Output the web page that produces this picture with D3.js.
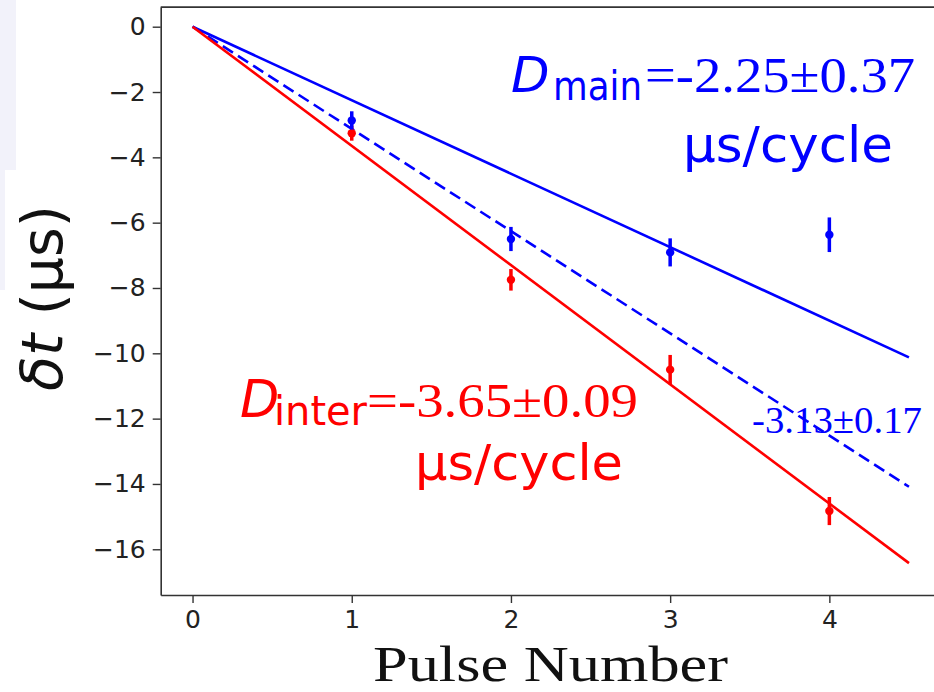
<!DOCTYPE html>
<html>
<head>
<meta charset="utf-8">
<script src="https://cdn.jsdelivr.net/npm/d3@7"></script>
<style>
  body { margin: 0; background: #fff; }
  svg { display: block; }
</style>
</head>
<body>
<div id="chart"></div>
<script>
// pulse numbers and measured shifts (µs)
const pulses = [1, 2, 3, 4];
const mainDt = [-2.87, -6.50, -6.91, -6.37];
const mainErr = [0.28, 0.37, 0.43, 0.53];
const interDt = [-3.26, -7.75, -10.5, -14.83];
const interErr = [0.23, 0.33, 0.45, 0.43];

// fitted slopes (µs/cycle), lines through origin
const fitX = [0, 4.5];
const mainSlope = -2.25;
const interSlope = -3.65;
const combSlope = -3.13;

const xTicks = [0, 1, 2, 3, 4];
const yTicks = [0, -2, -4, -6, -8, -10, -12, -14, -16];

const width = 934, height = 692;
const blue = '#0000ff', red = '#ff0000';

const svg = d3.select('#chart').append('svg')
  .attr('width', width)
  .attr('height', height);

// faint strip on the left edge of the screenshot
svg.append('rect')
  .attr('x', 0).attr('y', 0)
  .attr('width', 16).attr('height', 170)
  .attr('fill', '#f2f2fa');
svg.append('rect')
  .attr('x', 0).attr('y', 170)
  .attr('width', 5).attr('height', 120)
  .attr('fill', '#f2f2fa');

const x = d3.scaleLinear().domain([-0.2, 4.7]).range([160.7, 940.8]);
const y = d3.scaleLinear().domain([0.6, -17.4]).range([7.1, 595]);

// axes
const xAxis = d3.axisBottom(x).tickValues(xTicks)
  .tickSizeInner(8).tickSizeOuter(0).tickPadding(7)
  .tickFormat(d => d);
const yAxis = d3.axisLeft(y).tickValues(yTicks)
  .tickSizeInner(8).tickSizeOuter(0).tickPadding(7)
  .tickFormat(d => (d < 0 ? '\u2212' + Math.abs(d) : d));

const gx = svg.append('g')
  .attr('transform', `translate(0,${y(-17.4)})`)
  .call(xAxis);
const gy = svg.append('g')
  .attr('transform', `translate(${x(-0.2)},0)`)
  .call(yAxis);

[gx, gy].forEach(g => {
  g.select('.domain').attr('stroke', '#333').attr('stroke-width', 1.6);
  g.selectAll('.tick line').attr('stroke', '#333').attr('stroke-width', 1.4);
  g.selectAll('.tick text')
    .attr('fill', '#222')
    .style('font-family', 'DejaVu Sans')
    .style('font-size', '25px');
});

// top spine
svg.append('line')
  .attr('x1', x(-0.2)).attr('x2', width)
  .attr('y1', y(0.6)).attr('y2', y(0.6))
  .attr('stroke', '#333').attr('stroke-width', 1.6);

// fit lines
const fitLine = slope => d3.line()
  .x(d => x(d))
  .y(d => y(slope * d))(fitX);

svg.append('path')
  .attr('d', fitLine(combSlope))
  .attr('fill', 'none')
  .attr('stroke', blue)
  .attr('stroke-width', 2.6)
  .attr('stroke-dasharray', '12,6');

svg.append('path')
  .attr('d', fitLine(mainSlope))
  .attr('fill', 'none')
  .attr('stroke', blue)
  .attr('stroke-width', 2.6);

svg.append('path')
  .attr('d', fitLine(interSlope))
  .attr('fill', 'none')
  .attr('stroke', red)
  .attr('stroke-width', 2.6);

// error bar points
function drawSeries(vals, errs, color) {
  const g = svg.append('g');
  const rows = pulses.map((p, i) => ({ p, v: vals[i], e: errs[i] }));
  g.selectAll('line.err').data(rows).enter().append('line')
    .attr('class', 'err')
    .attr('x1', d => x(d.p)).attr('x2', d => x(d.p))
    .attr('y1', d => y(d.v + d.e)).attr('y2', d => y(d.v - d.e))
    .attr('stroke', color).attr('stroke-width', 3.5);
  g.selectAll('circle').data(rows).enter().append('circle')
    .attr('cx', d => x(d.p)).attr('cy', d => y(d.v))
    .attr('r', 4.2)
    .attr('fill', color);
}
drawSeries(interDt, interErr, red);
drawSeries(mainDt, mainErr, blue);

// annotations
function label(txt, px, py, opts) {
  const t = svg.append('text')
    .attr('x', px).attr('y', py)
    .attr('fill', opts.color)
    .style('font-family', opts.family)
    .style('font-size', opts.size + 'px')
    .text(txt);
  if (opts.italic) t.style('font-style', 'italic');
  if (opts.len) t.attr('textLength', opts.len).attr('lengthAdjust', 'spacingAndGlyphs');
  return t;
}

// main annotation (blue)
label('D', 511, 91.7, { color: blue, family: 'DejaVu Sans', size: 50, italic: true });
label('main', 553, 100, { color: blue, family: 'DejaVu Sans', size: 40, len: 89 });
label('=-2.25\u00b10.37', 645, 91.7, { color: blue, family: 'Liberation Serif', size: 50, len: 270 });
label('\u00b5s/cycle', 683, 161.7, { color: blue, family: 'DejaVu Sans', size: 50, len: 210 });

// inter annotation (red)
label('D', 240, 416.7, { color: red, family: 'DejaVu Sans', size: 51, italic: true });
label('inter', 274, 425, { color: red, family: 'DejaVu Sans', size: 40, len: 93 });
label('=-3.65\u00b10.09', 367, 416.7, { color: red, family: 'Liberation Serif', size: 49, len: 271 });
label('\u00b5s/cycle', 415, 480, { color: red, family: 'DejaVu Sans', size: 50, len: 208 });

// combined slope (blue, dashed line)
label('-3.13\u00b10.17', 752, 433, { color: blue, family: 'Liberation Serif', size: 38, len: 170 });

// axis titles
label('Pulse Number', 373, 681, { color: '#111', family: 'Liberation Serif', size: 50, len: 355 });

const yl = svg.append('text')
  .attr('transform', 'translate(62,298) rotate(-90)')
  .attr('text-anchor', 'middle')
  .attr('fill', '#111')
  .style('font-family', 'DejaVu Sans')
  .style('font-size', '57px');
yl.append('tspan').style('font-style', 'italic').text('\u03b4t');
yl.append('tspan').text(' (\u00b5s)');
</script>
</body>
</html>
